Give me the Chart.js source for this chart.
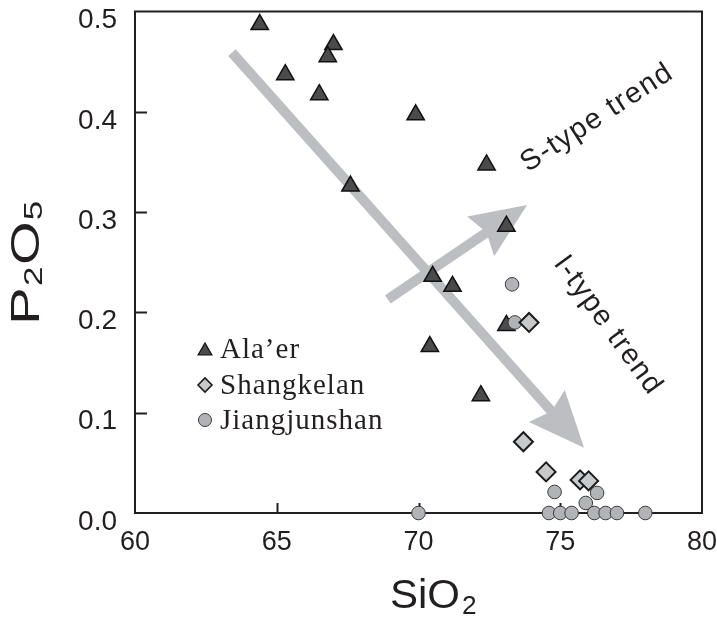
<!DOCTYPE html>
<html>
<head>
<meta charset="utf-8">
<script src="https://cdn.jsdelivr.net/npm/chart.js@4.4.0/dist/chart.umd.min.js"></script>
<style>
  html, body { margin: 0; padding: 0; background: #fff; }
</style>
</head>
<body>
<canvas id="chart" width="717" height="621"></canvas>
<script>
// ---- data (SiO2 wt%, P2O5 wt%) ----
const alaerSiO2 = [64.4, 65.3, 67.0, 66.8, 66.5, 69.9, 72.4, 67.6, 73.1, 70.5, 71.2, 73.1, 70.4, 72.2];
const alaerP2O5 = [0.487, 0.437, 0.467, 0.455, 0.417, 0.397, 0.347, 0.326, 0.286, 0.236, 0.226, 0.187, 0.166, 0.117];

const shangSiO2 = [73.9, 73.7, 74.5, 75.7, 76.0];
const shangP2O5 = [0.19, 0.071, 0.041, 0.033, 0.032];

const jiangSiO2 = [73.3, 73.4, 74.8, 76.3, 75.9, 70.0, 74.6, 75.0, 75.4, 76.2, 76.6, 77.0, 78.0];
const jiangP2O5 = [0.228, 0.19, 0.021, 0.02, 0.01, 0, 0, 0, 0, 0, 0, 0, 0];

const xTicks = [60, 65, 70, 75, 80];
const yTicks = [0.0, 0.1, 0.2, 0.3, 0.4, 0.5];

// trend arrows: [start SiO2, start P2O5, tip SiO2, tip P2O5]
const iTypeArrow = [63.42, 0.459, 75.84, 0.065];
const sTypeArrow = [68.92, 0.213, 73.83, 0.307];

const seriesNames = ['Ala\u2019er', 'Shangkelan', 'Jiangjunshan'];

const toPoints = (xs, ys) => xs.map((x, i) => ({ x: x, y: ys[i] }));

const SANS = '"Liberation Sans", Arial, Helvetica, sans-serif';
const SERIF = '"Liberation Serif", "Times New Roman", serif';
const ARROW_GREY = '#bdbec1';
const INK = '#231f20';

const styles = [
  { pointStyle: 'triangle', radius: 10, bg: '#4b4b4d', border: '#111', bw: 1.5 },
  { pointStyle: 'rectRot', radius: 9.5, bg: '#c8c9cb', border: '#1b1b1b', bw: 2 },
  { pointStyle: 'circle', radius: 6.8, bg: '#b2b3b6', border: '#3a3a3a', bw: 1 }
];

function drawArrow(ctx, x0, y0, x1, y1) {
  const dx = x1 - x0, dy = y1 - y0;
  const len = Math.hypot(dx, dy);
  const ux = dx / len, uy = dy / len;
  const nx = -uy, ny = ux;
  const headLen = 56, headHalf = 24, notch = 7;
  const bx = x1 - ux * headLen, by = y1 - uy * headLen;
  const mx = bx + ux * notch, my = by + uy * notch;

  ctx.save();
  ctx.strokeStyle = ARROW_GREY;
  ctx.lineWidth = 10;
  ctx.lineCap = 'butt';
  ctx.beginPath();
  ctx.moveTo(x0, y0);
  ctx.lineTo(mx + ux * 2, my + uy * 2);
  ctx.stroke();

  ctx.fillStyle = ARROW_GREY;
  ctx.beginPath();
  ctx.moveTo(x1, y1);
  ctx.lineTo(bx + nx * headHalf, by + ny * headHalf);
  ctx.lineTo(mx, my);
  ctx.lineTo(bx - nx * headHalf, by - ny * headHalf);
  ctx.closePath();
  ctx.fill();
  ctx.restore();
}

// frame, inward ticks and arrows under the markers
const backdrop = {
  id: 'backdrop',
  beforeDatasetsDraw(chart) {
    const { ctx, chartArea: a, scales: { x, y } } = chart;

    drawArrow(ctx, x.getPixelForValue(iTypeArrow[0]), y.getPixelForValue(iTypeArrow[1]),
                   x.getPixelForValue(iTypeArrow[2]), y.getPixelForValue(iTypeArrow[3]));
    drawArrow(ctx, x.getPixelForValue(sTypeArrow[0]), y.getPixelForValue(sTypeArrow[1]),
                   x.getPixelForValue(sTypeArrow[2]), y.getPixelForValue(sTypeArrow[3]));

    ctx.save();
    ctx.strokeStyle = INK;
    ctx.lineWidth = 2;
    ctx.strokeRect(a.left, a.top, a.right - a.left, a.bottom - a.top);

    ctx.beginPath();
    yTicks.slice(1, -1).forEach(v => {
      const py = Math.round(y.getPixelForValue(v)) + 0.5;
      ctx.moveTo(a.left, py);
      ctx.lineTo(a.left + 12, py);
    });
    xTicks.slice(1, -1).forEach(v => {
      const px = Math.round(x.getPixelForValue(v)) + 0.5;
      ctx.moveTo(px, a.bottom);
      ctx.lineTo(px, a.bottom - 10);
    });
    ctx.lineWidth = 2;
    ctx.stroke();
    ctx.restore();
  }
};

// axis titles with subscripts, trend labels, legend
const overlay = {
  id: 'overlay',
  afterDraw(chart) {
    const { ctx, scales: { x, y } } = chart;
    ctx.save();
    ctx.fillStyle = INK;
    ctx.textBaseline = 'alphabetic';

    // x title: SiO2
    ctx.save();
    ctx.translate(390, 608);
    ctx.scale(1.05, 1);
    ctx.textAlign = 'left';
    ctx.font = '40px ' + SANS;
    ctx.fillText('SiO', 0, 0);
    const w1 = ctx.measureText('SiO').width;
    ctx.font = '25px ' + SANS;
    ctx.fillText('2', w1 + 2, 6);
    ctx.restore();

    // y title: P2O5 (rotated, drawn a little wide like the original)
    ctx.save();
    ctx.translate(39, 262);
    ctx.rotate(-Math.PI / 2);
    ctx.scale(1.4, 1);
    const parts = [['P', 40, 0], ['2', 25, 3], ['O', 40, 0], ['5', 25, 3]];
    let total = 0;
    parts.forEach(p => { ctx.font = p[1] + 'px ' + SANS; total += ctx.measureText(p[0]).width + 1; });
    let cx = -total / 2;
    ctx.textAlign = 'left';
    parts.forEach(p => {
      ctx.font = p[1] + 'px ' + SANS;
      ctx.fillText(p[0], cx, p[2]);
      cx += ctx.measureText(p[0]).width + 1;
    });
    ctx.restore();

    // trend labels
    ctx.font = '29px ' + SANS;
    ctx.letterSpacing = '1.5px';
    ctx.textAlign = 'center';
    ctx.textBaseline = 'middle';
    ctx.save();
    ctx.translate(x.getPixelForValue(76.3), y.getPixelForValue(0.394));
    ctx.rotate(-33 * Math.PI / 180);
    ctx.fillText('S-type trend', 0, 0);
    ctx.restore();
    ctx.save();
    ctx.translate(x.getPixelForValue(76.68), y.getPixelForValue(0.187));
    ctx.rotate(54 * Math.PI / 180);
    ctx.fillText('I-type trend', 0, 0);
    ctx.restore();

    // legend
    const legendMarks = [
      { pointStyle: 'triangle', radius: 8, bg: styles[0].bg, border: styles[0].border, bw: 1.2 },
      { pointStyle: 'rectRot', radius: 7, bg: styles[1].bg, border: styles[1].border, bw: 1.6 },
      { pointStyle: 'circle', radius: 6.5, bg: styles[2].bg, border: styles[2].border, bw: 1 }
    ];
    const rowY = [349, 385, 420];
    ctx.font = '29px ' + SERIF;
    ctx.letterSpacing = '1px';
    ctx.textAlign = 'left';
    ctx.textBaseline = 'alphabetic';
    seriesNames.forEach((name, i) => {
      const m = legendMarks[i];
      ctx.fillStyle = m.bg;
      ctx.strokeStyle = m.border;
      ctx.lineWidth = m.bw;
      Chart.helpers.drawPoint(ctx, { pointStyle: m.pointStyle, radius: m.radius, rotation: 0, borderWidth: m.bw },
        205, rowY[i] + (i === 0 ? 2 : 0));
      ctx.fillStyle = INK;
      ctx.fillText(name, 220, rowY[i] + 9);
    });
    ctx.restore();
  }
};

const datasets = [
  { label: seriesNames[0], data: toPoints(alaerSiO2, alaerP2O5), order: 2, s: styles[0] },
  { label: seriesNames[2], data: toPoints(jiangSiO2, jiangP2O5), order: 1, s: styles[2] },
  { label: seriesNames[1], data: toPoints(shangSiO2, shangP2O5), order: 0, s: styles[1] }
].map(d => ({
  label: d.label,
  data: d.data,
  order: d.order,
  clip: false,
  pointStyle: d.s.pointStyle,
  pointRadius: d.s.radius,
  pointBackgroundColor: d.s.bg,
  pointBorderColor: d.s.border,
  pointBorderWidth: d.s.bw,
  showLine: false
}));

new Chart(document.getElementById('chart'), {
  type: 'scatter',
  data: { datasets: datasets },
  options: {
    responsive: false,
    animation: false,
    devicePixelRatio: 1,
    layout: { padding: 0 },
    plugins: { legend: { display: false }, tooltip: { enabled: false } },
    scales: {
      x: {
        type: 'linear',
        min: 60, max: 80,
        afterBuildTicks: s => { s.ticks = xTicks.map(v => ({ value: v })); },
        afterFit: s => { s.height = 108; s.paddingRight = 15; s.paddingLeft = 0; },
        grid: { display: false, drawTicks: false },
        border: { display: false },
        ticks: { font: { family: SANS, size: 27 }, color: INK, padding: 13, maxRotation: 0 }
      },
      y: {
        type: 'linear',
        min: 0, max: 0.5,
        afterBuildTicks: s => { s.ticks = yTicks.map(v => ({ value: v })); },
        afterFit: s => { s.width = 135; s.paddingTop = 7; s.paddingBottom = 0; },
        grid: { display: false, drawTicks: false },
        border: { display: false },
        ticks: {
          font: { family: SANS, size: 28 }, color: INK, padding: 18, labelOffset: 9,
          callback: v => v.toFixed(1)
        }
      }
    }
  },
  plugins: [backdrop, overlay]
});
</script>
</body>
</html>
